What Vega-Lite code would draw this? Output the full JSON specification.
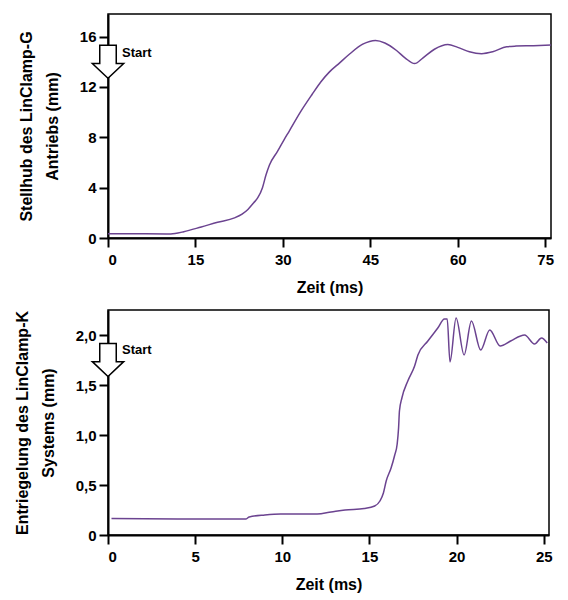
{
  "$schema": "https://vega.github.io/schema/vega-lite/v6.json",
  "background": "white",
  "padding": {"left": 13, "top": 13, "right": 8, "bottom": 5},
  "bounds": "flush",
  "spacing": 72,
  "datasets": {
    "top": [
      {"t": 0, "v": 0.33}, {"t": 5, "v": 0.33}, {"t": 10, "v": 0.32}, {"t": 11.5, "v": 0.36},
      {"t": 13, "v": 0.5}, {"t": 16, "v": 0.88}, {"t": 18.8, "v": 1.25}, {"t": 21.7, "v": 1.6},
      {"t": 23, "v": 1.9}, {"t": 24, "v": 2.27}, {"t": 25, "v": 2.8}, {"t": 25.7, "v": 3.2},
      {"t": 26.5, "v": 4.0}, {"t": 27.1, "v": 5.0}, {"t": 27.7, "v": 5.8}, {"t": 29.1, "v": 6.9},
      {"t": 30.2, "v": 7.8}, {"t": 31.1, "v": 8.5}, {"t": 33, "v": 10.0}, {"t": 35, "v": 11.4},
      {"t": 36.5, "v": 12.4}, {"t": 38, "v": 13.2}, {"t": 39.7, "v": 13.9}, {"t": 41.4, "v": 14.6},
      {"t": 43.7, "v": 15.4}, {"t": 45.9, "v": 15.7}, {"t": 47.5, "v": 15.5}, {"t": 49.5, "v": 14.9},
      {"t": 51, "v": 14.3}, {"t": 52.6, "v": 13.86}, {"t": 54, "v": 14.3}, {"t": 56, "v": 15.0},
      {"t": 58.3, "v": 15.37}, {"t": 60, "v": 15.15}, {"t": 62, "v": 14.8}, {"t": 64.1, "v": 14.65},
      {"t": 66, "v": 14.8}, {"t": 68.4, "v": 15.2}, {"t": 70, "v": 15.25}, {"t": 73, "v": 15.28},
      {"t": 76, "v": 15.33}
    ],
    "bottom": [
      {"t": 0.2, "v": 0.165}, {"t": 4, "v": 0.16}, {"t": 7.9, "v": 0.16}, {"t": 8.1, "v": 0.18},
      {"t": 9, "v": 0.2}, {"t": 9.9, "v": 0.21}, {"t": 12, "v": 0.21}, {"t": 12.8, "v": 0.23},
      {"t": 13.6, "v": 0.25}, {"t": 14.7, "v": 0.265}, {"t": 15.3, "v": 0.29}, {"t": 15.6, "v": 0.34},
      {"t": 15.8, "v": 0.42}, {"t": 15.96, "v": 0.54}, {"t": 16.24, "v": 0.67}, {"t": 16.45, "v": 0.8},
      {"t": 16.59, "v": 0.91}, {"t": 16.67, "v": 1.07}, {"t": 16.72, "v": 1.24}, {"t": 16.86, "v": 1.37},
      {"t": 17.2, "v": 1.54}, {"t": 17.59, "v": 1.69}, {"t": 17.78, "v": 1.8}, {"t": 18.35, "v": 1.94},
      {"t": 18.92, "v": 2.07}, {"t": 19.3, "v": 2.16}, {"t": 19.46, "v": 2.16}, {"t": 19.62, "v": 1.73},
      {"t": 19.97, "v": 2.17}, {"t": 20.43, "v": 1.8}, {"t": 20.85, "v": 2.14}, {"t": 21.38, "v": 1.85},
      {"t": 21.9, "v": 2.05}, {"t": 22.5, "v": 1.89}, {"t": 23.1, "v": 1.94}, {"t": 23.9, "v": 2.0},
      {"t": 24.47, "v": 1.91}, {"t": 24.87, "v": 1.97}, {"t": 25.2, "v": 1.92}
    ],
    "noteTop": [{"t": 0, "v": 14.0, "label": "Start"}],
    "noteBottom": [{"t": 0, "v": 1.75, "label": "Start"}]
  },
  "vconcat": [
    {
      "width": 443,
      "height": 224,
      "layer": [
        {
          "data": {"name": "top"},
          "mark": {"type": "line", "interpolate": "monotone", "color": "#6b4390", "strokeWidth": 1.5},
          "encoding": {
            "x": {"field": "t", "type": "quantitative", "scale": {"domain": [0, 76], "nice": false},
                  "axis": {"values": [0, 15, 30, 45, 60, 75], "title": "Zeit (ms)"}},
            "y": {"field": "v", "type": "quantitative", "scale": {"domain": [0, 17.8], "nice": false},
                  "axis": {"values": [0, 4, 8, 12, 16], "title": ["Stellhub des LinClamp-G", "Antriebs (mm)"]}}
          }
        },
        {
          "data": {"name": "noteTop"},
          "mark": {"type": "point", "shape": "M -0.5 -1 L 0.5 -1 L 0.5 0.1 L 0.95 0.1 L 0 1 L -0.95 0.1 L -0.5 0.1 Z",
                   "filled": true, "fill": "white", "stroke": "black", "strokeWidth": 1.5, "size": 1089, "opacity": 1},
          "encoding": {"x": {"field": "t", "type": "quantitative"}, "y": {"field": "v", "type": "quantitative"}}
        },
        {
          "data": {"name": "noteTop"},
          "mark": {"type": "text", "align": "left", "baseline": "middle", "dx": 14, "dy": -9,
                   "font": "Liberation Sans", "fontWeight": "bold", "fontSize": 13, "color": "black"},
          "encoding": {"x": {"field": "t", "type": "quantitative"}, "y": {"field": "v", "type": "quantitative"}, "text": {"field": "label"}}
        }
      ]
    },
    {
      "width": 441,
      "height": 225,
      "layer": [
        {
          "data": {"name": "bottom"},
          "mark": {"type": "line", "interpolate": "monotone", "color": "#6b4390", "strokeWidth": 1.5},
          "encoding": {
            "x": {"field": "t", "type": "quantitative", "scale": {"domain": [0, 25.3], "nice": false},
                  "axis": {"values": [0, 5, 10, 15, 20, 25], "title": "Zeit (ms)"}},
            "y": {"field": "v", "type": "quantitative", "scale": {"domain": [0, 2.25], "nice": false},
                  "axis": {"values": [0, 0.5, 1, 1.5, 2],
                           "labelExpr": "datum.value == 0 ? '0' : replace(format(datum.value, '.1f'), '.', ',')",
                           "title": ["Entriegelung des LinClamp-K", "Systems (mm)"]}}
          }
        },
        {
          "data": {"name": "noteBottom"},
          "mark": {"type": "point", "shape": "M -0.5 -1 L 0.5 -1 L 0.5 0.1 L 0.95 0.1 L 0 1 L -0.95 0.1 L -0.5 0.1 Z",
                   "filled": true, "fill": "white", "stroke": "black", "strokeWidth": 1.5, "size": 1089, "opacity": 1},
          "encoding": {"x": {"field": "t", "type": "quantitative"}, "y": {"field": "v", "type": "quantitative"}}
        },
        {
          "data": {"name": "noteBottom"},
          "mark": {"type": "text", "align": "left", "baseline": "middle", "dx": 14, "dy": -10,
                   "font": "Liberation Sans", "fontWeight": "bold", "fontSize": 13, "color": "black"},
          "encoding": {"x": {"field": "t", "type": "quantitative"}, "y": {"field": "v", "type": "quantitative"}, "text": {"field": "label"}}
        }
      ]
    }
  ],
  "config": {
    "view": {"stroke": "black", "strokeWidth": 1.5},
    "axis": {
      "grid": false,
      "domainColor": "black", "domainWidth": 2,
      "tickColor": "black", "tickWidth": 2, "tickSize": 9,
      "labelFont": "Liberation Sans", "labelFontWeight": "bold", "labelFontSize": 15, "labelColor": "black",
      "titleFont": "Liberation Sans", "titleFontWeight": "bold", "titleFontSize": 16, "titleColor": "black"
    },
    "axisX": {"labelPadding": 5, "titlePadding": 12},
    "axisY": {"labelPadding": 3, "titlePadding": 19, "titleLineHeight": 26, "labelFlush": false}
  }
}
